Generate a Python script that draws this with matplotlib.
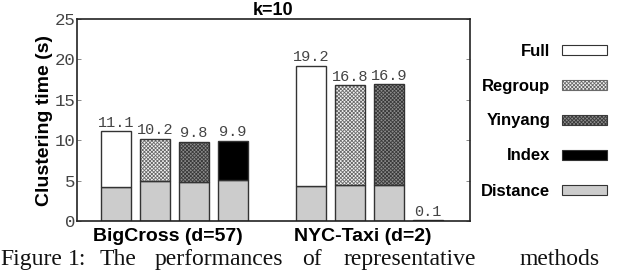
import numpy as np
import matplotlib.pyplot as plt
from matplotlib.patches import Patch

plt.rcParams['hatch.linewidth'] = 0.6

# data
groups = ['BigCross (d=57)', 'NYC-Taxi (d=2)']
methods = ['Full', 'Regroup', 'Yinyang', 'Index']
totals = [[11.1, 10.2, 9.8, 9.9], [19.2, 16.8, 16.9, 0.1]]
distance = [[4.2, 5.0, 4.85, 5.05], [4.35, 4.5, 4.5, 0.05]]
yticks = [0, 5, 10, 15, 20, 25]

# styles per method: face, hatch colour, hatch
styles = {
    'Full': ('white', None, None),
    'Regroup': ('#f4f4f4', '#6a6a6a', 'xxxxxxxxx'),
    'Yinyang': ('#8c8c8c', '#3a3a3a', 'xxxxxxxxx'),
    'Index': ('black', None, None),
}
dist_color = '#cccccc'
edge = '#333333'
mono = 'Liberation Mono'
sans = 'Liberation Sans'

fig = plt.figure(figsize=(6.4, 2.71), dpi=100)
ax = fig.add_axes([77 / 640, 50 / 271, 393 / 640, 202 / 271])

width = 0.77
for g in range(len(groups)):
    for m, name in enumerate(methods):
        x = 1 + g * 5 + m
        d = distance[g][m]
        top = totals[g][m] - d
        face, hcol, hatch = styles[name]
        ax.bar(x, d, width, color=dist_color, edgecolor=edge, linewidth=1, zorder=2)
        if hatch:
            ax.bar(x, top, width, bottom=d, color=face, edgecolor=hcol,
                   hatch=hatch, linewidth=0, zorder=2)
            ax.bar(x, top, width, bottom=d, fill=False, edgecolor=edge,
                   linewidth=1, zorder=3)
        else:
            ax.bar(x, top, width, bottom=d, color=face, edgecolor=edge,
                   linewidth=1, zorder=2)
        ax.text(x, totals[g][m] + 0.2, f'{totals[g][m]:.1f}', ha='center',
                va='bottom', family=mono, fontsize=11, color='#444444')

ax.set_xlim(0, 10.08)
ax.set_ylim(0, 25)
ax.set_yticks(yticks)
ax.set_yticklabels([str(t) for t in yticks], family=mono, fontsize=12.5, color='#444444')
ax.tick_params(axis='y', direction='in', length=3, width=0.6, color='#777777',
               right=True, pad=1)
ax.set_xticks([2.33, 7.33])
ax.set_xticklabels(groups, fontweight='bold', family=sans, fontsize=14)
ax.tick_params(axis='x', length=0, pad=5)
for s in ax.spines.values():
    s.set_linewidth(1.2)
    s.set_color('#222222')
ax.set_ylabel('Clustering time (s)', fontweight='bold', family=sans,
              fontsize=14, labelpad=1)
ax.set_title('k=10', fontweight='bold', family=sans, fontsize=13, pad=3)

handles = []
for name in methods:
    face, hcol, hatch = styles[name]
    if hatch:
        handles.append(Patch(facecolor=face, edgecolor=hcol, hatch=hatch, linewidth=0.8))
    else:
        handles.append(Patch(facecolor=face, edgecolor=edge, linewidth=0.8))
handles.append(Patch(facecolor=dist_color, edgecolor=edge, linewidth=0.8))
labels = methods + ['Distance']
fig.legend(handles, labels, loc='center', bbox_to_anchor=(544 / 640, 1 - 121 / 271),
           frameon=False, markerfirst=False, handlelength=2.7, handleheight=0.55,
           labelspacing=1.2, handletextpad=0.7,
           prop={'family': sans, 'weight': 'bold', 'size': 12})

# caption line below the chart
words = ['Figure', '1:', 'The', 'performances', 'of', 'representative', 'methods']
word_x = [0, 68, 100, 155, 302, 343, 520]
for w, xp in zip(words, word_x):
    fig.text(xp / 640, 6 / 271, w, family='Liberation Serif', fontsize=17,
             ha='left', va='baseline', color='#111111')

fig.savefig('out.png', dpi=100)
